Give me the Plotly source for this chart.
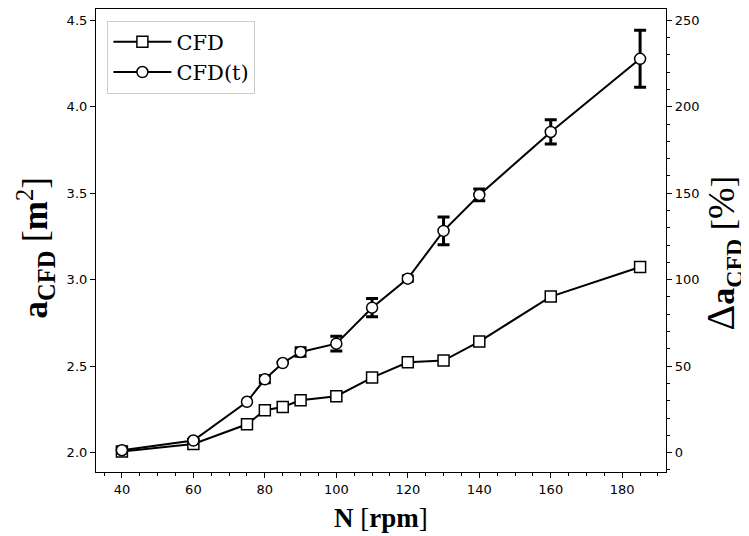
import plotly.graph_objects as go

# Data
rpm = [40, 60, 75, 80, 85, 90, 100, 110, 120, 130, 140, 160, 185]
a_cfd = [2.006, 2.05, 2.164, 2.245, 2.264, 2.303, 2.326, 2.434, 2.522, 2.532, 2.642, 2.902, 3.073]
a_cfd_t = [2.014, 2.07, 2.294, 2.424, 2.518, 2.582, 2.630, 2.838, 3.006, 3.282, 3.490, 3.854, 4.277]
a_cfd_t_err = [0.0, 0.0, 0.0, 0.02, 0.0, 0.025, 0.043, 0.053, 0.015, 0.08, 0.034, 0.07, 0.165]
delta_a_t = [(v - 2.0) * 100 for v in a_cfd_t]

x_title = "<b>N</b> [<b>rpm</b>]"
y_title = "<b>a</b><sub><b>CFD</b></sub> [<b>m</b><sup>2</sup>]"
y2_title = "<span style='font-size:40px'>Δ</span><b>a</b><sub><b>CFD</b></sub> [<span style='font-size:38px'>%</span>]"

serif = "Liberation Serif"
sans = "DejaVu Sans"

fig = go.Figure()

fig.add_trace(go.Scatter(
    x=rpm, y=a_cfd, name="CFD", mode="lines+markers",
    line=dict(color="black", width=2),
    marker=dict(symbol="square", size=11, color="white",
                line=dict(color="black", width=1.5)),
))

fig.add_trace(go.Scatter(
    x=rpm, y=a_cfd_t, name="CFD(t)", mode="lines+markers",
    line=dict(color="black", width=2),
    marker=dict(symbol="circle", size=11, color="white",
                line=dict(color="black", width=1.5)),
    error_y=dict(type="data", array=a_cfd_t_err, visible=True,
                 color="black", thickness=3, width=6),
))

fig.add_trace(go.Scatter(
    x=rpm, y=delta_a_t, yaxis="y2", mode="markers",
    marker=dict(opacity=0), showlegend=False, hoverinfo="skip",
))

tickfont = dict(family=sans, size=13, color="black")
titlefont = dict(family=serif, size=34, color="black")

fig.update_layout(
    width=741, height=528,
    margin=dict(l=88, r=83, t=1, b=64, autoexpand=False),
    paper_bgcolor="white", plot_bgcolor="white",
    showlegend=True,
    legend=dict(
        x=0.02, y=0.975, xanchor="left", yanchor="top",
        bgcolor="rgba(255,255,255,0.8)", bordercolor="#cccccc", borderwidth=1,
        font=dict(family="DejaVu Serif", size=21, color="black"),
        itemwidth=58, tracegroupgap=2,
    ),
    xaxis=dict(
        range=[32.75, 192.25], tickmode="array",
        tickvals=[40, 60, 80, 100, 120, 140, 160, 180],
        ticks="outside", ticklen=5, tickwidth=1, tickcolor="black",
        minor=dict(dtick=5, tick0=0, ticks="outside", ticklen=3, tickcolor="black"),
        showline=True, linecolor="black", linewidth=1.2, mirror=True,
        showgrid=False, zeroline=False, tickfont=tickfont, automargin=False,
    ),
    yaxis=dict(
        range=[1.888, 4.565], tickmode="array",
        tickvals=[2.0, 2.5, 3.0, 3.5, 4.0, 4.5],
        ticktext=["2.0", "2.5", "3.0", "3.5", "4.0", "4.5"],
        ticks="outside", ticklen=5, tickwidth=1, tickcolor="black",
        showline=True, linecolor="black", linewidth=1.2, mirror=True,
        showgrid=False, zeroline=False, tickfont=tickfont, automargin=False,
    ),
    yaxis2=dict(
        overlaying="y", side="right",
        range=[-11.2, 256.5], tickmode="array",
        tickvals=[0, 50, 100, 150, 200, 250],
        ticks="outside", ticklen=5, tickwidth=1, tickcolor="black",
        minor=dict(dtick=10, tick0=0, ticks="outside", ticklen=3, tickcolor="black"),
        showline=True, linecolor="black", linewidth=1.2,
        showgrid=False, zeroline=False, tickfont=tickfont, automargin=False,
    ),
    annotations=[
        dict(text=x_title, xref="paper", yref="paper", x=0.5, y=-0.099,
             xanchor="center", yanchor="middle", showarrow=False,
             font=dict(family=serif, size=27, color="black")),
        dict(text=y_title, xref="paper", yref="paper", x=-0.106, y=0.484,
             xanchor="center", yanchor="middle", showarrow=False,
             textangle=-90, font=dict(family=serif, size=35, color="black")),
        dict(text=y2_title, xref="paper", yref="paper", x=1.099, y=0.473,
             xanchor="center", yanchor="middle", showarrow=False,
             textangle=-90, font=titlefont),
    ],
)

fig.write_html("out.html")
